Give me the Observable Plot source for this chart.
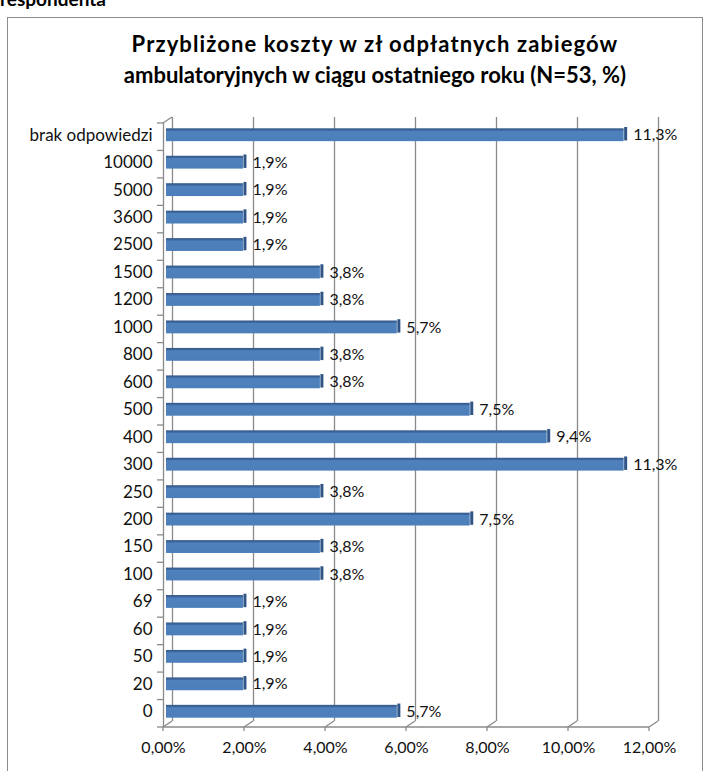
<!DOCTYPE html>
<html><head><meta charset="utf-8">
<script src="https://cdn.jsdelivr.net/npm/d3@7"></script>
<script src="https://cdn.jsdelivr.net/npm/@observablehq/plot@0.6"></script>
<style>
body{margin:0;width:704px;height:771px;overflow:hidden;position:relative;background:#fff;font-family:Lato,sans-serif;}
#resp{position:absolute;left:0;top:-13px;font-weight:bold;font-size:19px;color:#000;}
#frame{position:absolute;left:7px;top:17px;width:694px;height:800px;border:1.5px solid #8c8c8c;}
#title{position:absolute;left:0;top:28px;width:750px;text-align:center;font-weight:bold;font-size:22px;line-height:31px;color:#000;}
#title .l1{letter-spacing:1.1px;}
#chart{position:absolute;left:0;top:100px;line-height:0;}
</style></head>
<body>
<div id="resp">respondenta</div>
<div id="frame"></div>
<div id="title"><span class="l1">Przybliżone koszty w zł odpłatnych zabiegów</span><br>ambulatoryjnych w ciągu ostatniego roku (N=53, %)</div>
<div id="chart"></div>
<script>
const categories = ["brak odpowiedzi","10000","5000","3600","2500","1500","1200","1000","800","600","500","400","300","250","200","150","100","69","60","50","20","0"];
const values = [11.3,1.9,1.9,1.9,1.9,3.8,3.8,5.7,3.8,3.8,7.5,9.4,11.3,3.8,7.5,3.8,3.8,1.9,1.9,1.9,1.9,5.7];
const xTicks = [0,2,4,6,8,10,12];

const data = categories.map((c,i)=>({cat:c, v:values[i], label: values[i].toFixed(1).replace(".",",")+"%"}));
const grid = "#8a8a8a";
const depthX = 9, depthY = -6;
const fmtPct = d => d.toFixed(2).replace(".",",")+"%";

const plot = Plot.plot({
  width: 704, height: 671,
  marginLeft: 163, marginRight: 55, marginTop: 23, marginBottom: 44,
  style: {fontFamily: "Lato, sans-serif", fontSize: "16px", color: "#111", background: "transparent"},
  x: {domain: [0,12]},
  y: {domain: categories, padding: 0, round: false},
  marks: [
    Plot.ruleX(xTicks, {stroke: grid, strokeWidth: 1.3, dx: depthX, dy: depthY}),
    Plot.ruleX([0], {stroke: grid, strokeWidth: 1.3}),
    Plot.barX(data, {x: "v", y: "cat", fill: "url(#barGrad)", insetTop: 7.3, insetBottom: 7.3, dx: 3, dy: -2}),
    Plot.tickX(data, {x: "v", y: "cat", stroke: "#2F5486", strokeWidth: 3, insetTop: 6, insetBottom: 8, dx: 4.5, dy: -2}),
    Plot.text(data, {x: "v", y: "cat", text: "label", textAnchor: "start", dx: 12, dy: -2, fontSize: 16, fill: "#111"}),
    Plot.axisY({tickSize: 0, tickPadding: 11, fontSize: 17, dy: -2, label: null}),
    Plot.axisX({ticks: xTicks, tickFormat: fmtPct, tickSize: 0, tickPadding: 14, fontSize: 16, label: null})
  ]
});
document.getElementById("chart").appendChild(plot);

const svg = d3.select(plot);
const defs = svg.insert("defs", ":first-child");
const grad = defs.append("linearGradient").attr("id","barGrad").attr("x1",0).attr("y1",0).attr("x2",0).attr("y2",1);
grad.append("stop").attr("offset","0%").attr("stop-color","#35598A");
grad.append("stop").attr("offset","16%").attr("stop-color","#3E68A0");
grad.append("stop").attr("offset","22%").attr("stop-color","#4F81BD");
grad.append("stop").attr("offset","100%").attr("stop-color","#4C7EBA");

const xs = plot.scale("x"), ys = plot.scale("y");
const yBottom = ys.apply(categories[categories.length-1]) + ys.bandwidth;
const yTop = ys.apply(categories[0]);
const x0 = xs.apply(0);
const deco = svg.append("g").attr("stroke", grid).attr("stroke-width", 1.3).attr("fill","none");
deco.append("line").attr("x1", x0).attr("x2", xs.apply(12)).attr("y1", yBottom).attr("y2", yBottom);
xTicks.forEach(t => {
  const xp = xs.apply(t);
  deco.append("line").attr("x1", xp).attr("y1", yBottom).attr("x2", xp+depthX).attr("y2", yBottom+depthY);
  deco.append("line").attr("x1", xp).attr("y1", yBottom).attr("x2", xp).attr("y2", yBottom+4);
});
deco.append("line").attr("x1", x0).attr("y1", yTop).attr("x2", x0+depthX).attr("y2", yTop+depthY);
categories.forEach(c => {
  const yp = ys.apply(c);
  deco.append("line").attr("x1", x0-6).attr("x2", x0).attr("y1", yp).attr("y2", yp);
});
deco.append("line").attr("x1", x0-6).attr("x2", x0).attr("y1", yBottom).attr("y2", yBottom);
</script>
</body></html>
